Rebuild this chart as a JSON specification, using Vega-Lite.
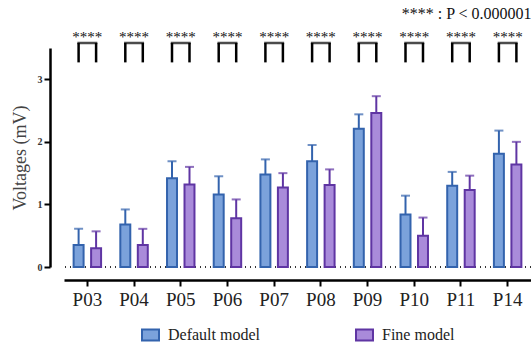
{
  "$schema": "https://vega.github.io/schema/vega-lite/v6.json",
  "autosize": "none",
  "width": 467,
  "height": 219,
  "padding": {"left": 64, "top": 48, "right": 0, "bottom": 80},
  "background": "white",
  "title": {"text": "**** : P < 0.000001", "anchor": "end", "orient": "top", "offset": 8, "font": "Liberation Serif", "fontSize": 16, "fontWeight": "normal", "color": "#111"},
  "config": {
    "view": {"stroke": null},
    "font": "Liberation Serif",
    "axis": {"domainColor": "black", "domainWidth": 2.5, "tickColor": "black", "tickWidth": 2, "tickSize": 6, "grid": false},
    "legend": {"layout": {"bottom": {"anchor": "middle"}}, "labelFont": "Liberation Serif", "labelFontSize": 16, "labelColor": "#222", "symbolOpacity": 1, "symbolStrokeWidth": 2}
  },
  "data": {"values": [
    {"cat": "P03", "model": "Default model", "value": 0.35, "upper": 0.61},
    {"cat": "P03", "model": "Fine model", "value": 0.30, "upper": 0.57},
    {"cat": "P04", "model": "Default model", "value": 0.68, "upper": 0.92},
    {"cat": "P04", "model": "Fine model", "value": 0.35, "upper": 0.61},
    {"cat": "P05", "model": "Default model", "value": 1.42, "upper": 1.69},
    {"cat": "P05", "model": "Fine model", "value": 1.32, "upper": 1.60},
    {"cat": "P06", "model": "Default model", "value": 1.16, "upper": 1.45},
    {"cat": "P06", "model": "Fine model", "value": 0.78, "upper": 1.08},
    {"cat": "P07", "model": "Default model", "value": 1.48, "upper": 1.72},
    {"cat": "P07", "model": "Fine model", "value": 1.27, "upper": 1.50},
    {"cat": "P08", "model": "Default model", "value": 1.69, "upper": 1.95},
    {"cat": "P08", "model": "Fine model", "value": 1.31, "upper": 1.56},
    {"cat": "P09", "model": "Default model", "value": 2.21, "upper": 2.44},
    {"cat": "P09", "model": "Fine model", "value": 2.46, "upper": 2.73},
    {"cat": "P10", "model": "Default model", "value": 0.84, "upper": 1.14},
    {"cat": "P10", "model": "Fine model", "value": 0.50, "upper": 0.79},
    {"cat": "P11", "model": "Default model", "value": 1.30, "upper": 1.52},
    {"cat": "P11", "model": "Fine model", "value": 1.23, "upper": 1.46},
    {"cat": "P14", "model": "Default model", "value": 1.81, "upper": 2.18},
    {"cat": "P14", "model": "Fine model", "value": 1.64, "upper": 2.00}
  ]},
  "encoding": {
    "x": {"field": "cat", "type": "nominal", "sort": null,
      "scale": {"paddingInner": 0, "paddingOuter": 0},
      "axis": {"title": null, "labelAngle": 0, "offset": 13, "labelFontSize": 19, "labelColor": "#222", "labelPadding": 4, "labelFont": "Liberation Serif"}},
    "xOffset": {"field": "model", "type": "nominal", "scale": {"paddingInner": 0.43, "paddingOuter": 0.55}}
  },
  "layer": [
    {
      "mark": {"type": "rule", "color": "#333", "strokeDash": [1, 4], "strokeWidth": 1},
      "encoding": {"y": {"datum": 0, "type": "quantitative"}, "x": null, "xOffset": null}
    },
    {
      "mark": {"type": "rule", "strokeWidth": 2},
      "encoding": {
        "y": {"field": "value", "type": "quantitative"},
        "y2": {"field": "upper"},
        "stroke": {"field": "model", "type": "nominal"}
      }
    },
    {
      "mark": {"type": "tick", "filled": false, "thickness": 0.01, "strokeWidth": 2, "size": 7},
      "encoding": {
        "y": {"field": "upper", "type": "quantitative"},
        "stroke": {"field": "model", "type": "nominal"}
      }
    },
    {
      "mark": {"type": "bar", "strokeWidth": 2},
      "encoding": {
        "y": {"field": "value", "type": "quantitative", "scale": {"domain": [0, 3.5], "nice": false},
          "axis": {"title": "Voltages (mV)", "values": [0, 1, 2, 3], "format": "d", "offset": 14, "labelFontSize": 10, "labelFontWeight": "bold", "labelColor": "#333", "labelPadding": 2, "titleFontSize": 18, "titleFontWeight": "normal", "titleColor": "#444", "titlePadding": 8, "titleFont": "Liberation Serif"}},
        "fill": {"field": "model", "type": "nominal", "scale": {"domain": ["Default model", "Fine model"], "range": ["#7ba2db", "#a98bda"]},
          "legend": {"title": null, "orient": "bottom", "direction": "horizontal", "columnPadding": 92, "labelFontSize": 16, "labelFont": "Liberation Serif", "labelColor": "#222", "symbolType": "M-1,-0.65H1V0.65H-1Z", "symbolSize": 289, "symbolStrokeWidth": 2, "symbolOpacity": 1, "labelOffset": 8, "offset": 16}},
        "stroke": {"field": "model", "type": "nominal", "scale": {"domain": ["Default model", "Fine model"], "range": ["#3363ad", "#5f35a3"]},
          "legend": {"title": null, "orient": "bottom", "direction": "horizontal", "columnPadding": 92, "labelFontSize": 16, "labelFont": "Liberation Serif", "labelColor": "#222", "symbolType": "M-1,-0.65H1V0.65H-1Z", "symbolSize": 289, "symbolStrokeWidth": 2, "symbolOpacity": 1, "labelOffset": 8, "offset": 16}}
      }
    },
    {
      "mark": {"type": "rule", "color": "black", "strokeWidth": 2.5},
      "encoding": {
        "y": {"datum": 3.27, "type": "quantitative"},
        "y2": {"datum": 3.58}
      }
    },
    {
      "transform": [{"filter": "datum.model === 'Default model'"}],
      "mark": {"type": "tick", "color": "black", "thickness": 2.5, "size": 20},
      "encoding": {
        "y": {"datum": 3.58, "type": "quantitative"},
        "xOffset": null
      }
    },
    {
      "transform": [{"filter": "datum.model === 'Default model'"}],
      "mark": {"type": "text", "text": "****", "fontSize": 15, "color": "#111", "baseline": "alphabetic", "font": "Liberation Serif"},
      "encoding": {
        "y": {"datum": 3.6, "type": "quantitative"},
        "xOffset": null
      }
    }
  ]
}
